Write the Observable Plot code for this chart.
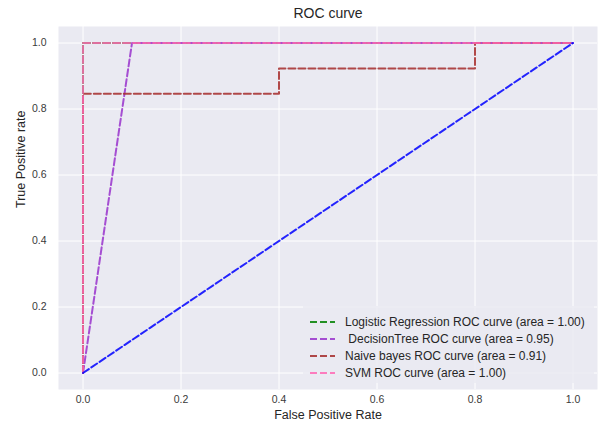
<!DOCTYPE html>
<html>
<head>
<meta charset="utf-8">
<script src="https://cdn.jsdelivr.net/npm/d3@7"></script>
<script src="https://cdn.jsdelivr.net/npm/@observablehq/plot@0.6"></script>
<style>
  html, body { margin: 0; padding: 0; background: #ffffff; }
  #wrap { position: relative; width: 602px; height: 427px; font-family: "Liberation Sans", Arial, sans-serif; }
  #legend { position: absolute; left: 303px; top: 306px; width: 291px; height: 77px;
            background: rgba(234,234,242,0.85); box-sizing: border-box; padding-top: 7px; }
  .row { display: flex; align-items: center; height: 17px; font-size: 12px; color: #262626; white-space: pre; }
  .row svg { margin-left: 7px; margin-right: 10px; flex: none; }
</style>
</head>
<body>
<div id="wrap"></div>
<script>
// ---- data ----
const xTicks = [0, 0.2, 0.4, 0.6, 0.8, 1.0];
const yTicks = [0, 0.2, 0.4, 0.6, 0.8, 1.0];

const diagFpr = [0, 1];
const diagTpr = [0, 1];

const lrFpr = [0, 0, 1];
const lrTpr = [0, 1, 1];

const dtFpr = [0, 0.1, 1];
const dtTpr = [0, 1, 1];

const nbFpr = [0, 0, 0.4, 0.4, 0.8, 0.8, 1];
const nbTpr = [0, 0.846, 0.846, 0.923, 0.923, 1, 1];

const svmFpr = [0, 0, 1];
const svmTpr = [0, 1, 1];

const seriesNames = [
  "Logistic Regression ROC curve (area = 1.00)",
  " DecisionTree ROC curve (area = 0.95)",
  "Naive bayes ROC curve (area = 0.91)",
  "SVM ROC curve (area = 1.00)"
];
const seriesColors = ["#008000", "#9932CC", "#A52A2A", "#FF69B4"];
const diagColor = "#0000FF";

const titleText = "ROC curve";
const xLabel = "False Positive Rate";
const yLabel = "True Positive rate";

// ---- build ----
const toRows = (xs, ys) => xs.map((x, i) => ({x, y: ys[i]}));
const series = [
  toRows(lrFpr, lrTpr),
  toRows(dtFpr, dtTpr),
  toRows(nbFpr, nbTpr),
  toRows(svmFpr, svmTpr)
];
const dash = "7,3";
const lineOpts = (c) => ({x: "x", y: "y", stroke: c, strokeWidth: 2, strokeDasharray: dash, strokeOpacity: 0.85, curve: "linear"});

const fmt = d3.format(".1f");
const plot = Plot.plot({
  width: 602,
  height: 427,
  marginLeft: 58,
  marginRight: 5,
  marginTop: 26,
  marginBottom: 38,
  style: {background: "#ffffff", fontFamily: '"Liberation Sans", Arial, sans-serif', color: "#262626"},
  x: {domain: [-0.05, 1.05]},
  y: {domain: [-0.05, 1.05]},
  marks: [
    Plot.frame({fill: "#EAEAF2", stroke: null}),
    Plot.gridX(xTicks, {stroke: "#ffffff", strokeOpacity: 1, strokeWidth: 1}),
    Plot.gridY(yTicks, {stroke: "#ffffff", strokeOpacity: 1, strokeWidth: 1}),
    ...series.map((s, i) => Plot.line(s, lineOpts(seriesColors[i]))),
    Plot.line(toRows(diagFpr, diagTpr), lineOpts(diagColor)),
    Plot.axisX(xTicks, {tickSize: 0, tickPadding: 6, tickFormat: fmt, fontSize: 10.5, fill: "#3a3a3a", label: null}),
    Plot.axisY(yTicks, {tickSize: 0, tickPadding: 12, tickFormat: fmt, fontSize: 10.5, fill: "#3a3a3a", label: null}),
    Plot.text([titleText], {frameAnchor: "top", lineAnchor: "middle", dy: -13, fontSize: 14, fill: "#262626"}),
    Plot.text([xLabel], {frameAnchor: "bottom", lineAnchor: "middle", dy: 25, fontSize: 12.5, fill: "#262626"}),
    Plot.text([yLabel], {frameAnchor: "left", dx: -38, rotate: -90, fontSize: 12.5, fill: "#262626"})
  ]
});

const wrap = document.getElementById("wrap");
wrap.appendChild(plot);

// legend (overlay)
const legend = document.createElement("div");
legend.id = "legend";
seriesNames.forEach((name, i) => {
  const row = document.createElement("div");
  row.className = "row";
  const sw = d3.create("svg").attr("width", 25).attr("height", 6);
  sw.append("line").attr("x1", 0).attr("x2", 25).attr("y1", 3).attr("y2", 3)
    .attr("stroke", seriesColors[i]).attr("stroke-width", 2).attr("stroke-opacity", 0.85)
    .attr("stroke-dasharray", dash);
  row.appendChild(sw.node());
  const span = document.createElement("span");
  span.textContent = name;
  row.appendChild(span);
  legend.appendChild(row);
});
wrap.appendChild(legend);
</script>
</body>
</html>
